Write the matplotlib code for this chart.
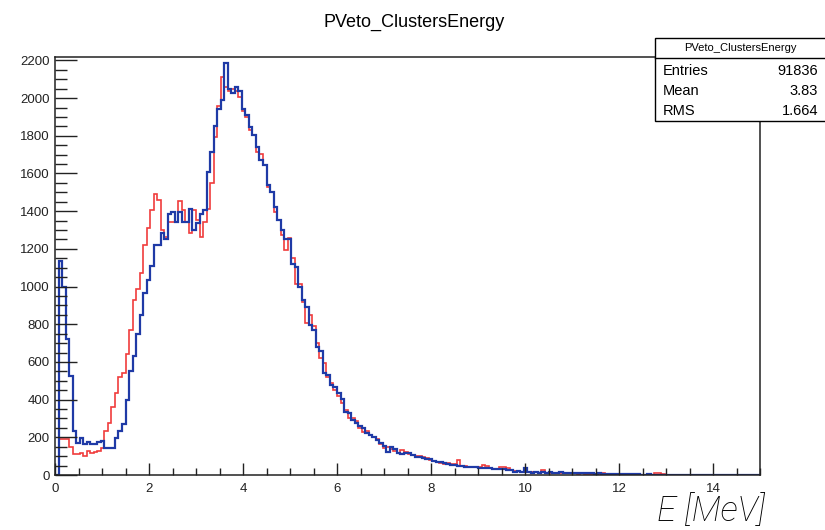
import numpy as np
import matplotlib
matplotlib.use('Agg')
import matplotlib.pyplot as plt
from matplotlib.patches import Rectangle
from matplotlib.lines import Line2D
from matplotlib.ticker import MultipleLocator

title = 'PVeto_ClustersEnergy'
x_min, x_max, n_bins = 0, 15, 200

# counts per 0.075 MeV bin
red_counts = [
    0, 189, 189, 189, 150, 111, 111, 115, 101, 127,
    115, 121, 130, 145, 233, 277, 362, 433, 518, 542,
    642, 772, 928, 986, 1073, 1220, 1308, 1405, 1490, 1458,
    1300, 1264, 1343, 1343, 1343, 1454, 1405, 1343, 1285, 1405,
    1352, 1264, 1343, 1414, 1547, 1794, 1960, 2112, 2060, 2036,
    2050, 2040, 2006, 1930, 1900, 1830, 1803, 1714, 1705, 1644,
    1530, 1502, 1396, 1352, 1272, 1193, 1255, 1150, 1016, 1016,
    919, 808, 850, 790, 700, 620, 592, 520, 490, 450,
    420, 380, 345, 300, 300, 285, 250, 230, 232, 210,
    203, 190, 165, 145, 150, 140, 125, 115, 135, 120,
    110, 105, 100, 100, 95, 88, 80, 75, 70, 65,
    60, 62, 58, 60, 80, 50, 48, 45, 42, 40,
    40, 52, 50, 36, 34, 32, 40, 40, 38, 25,
    22, 20, 18, 22, 15, 14, 16, 13, 27, 12,
    13, 11, 12, 9, 9, 10, 9, 8, 7, 8,
    6, 7, 5, 6, 5, 12, 4, 5, 3, 4,
    3, 2, 4, 2, 3, 1, 2, 1, 2, 1,
    12, 10, 3, 0, 0, 0, 0, 0, 0, 0,
    0, 0, 0, 0, 0, 0, 0, 0, 0, 0,
    0, 0, 0, 0, 0, 0, 0, 0, 0, 0,
]
blue_counts = [
    0, 1135, 995, 720, 527, 233, 171, 198, 163, 173,
    163, 163, 173, 180, 145, 145, 145, 198, 233, 269,
    400, 551, 631, 746, 848, 968, 1037, 1108, 1219, 1219,
    1285, 1250, 1384, 1396, 1343, 1396, 1343, 1343, 1409, 1299,
    1338, 1384, 1405, 1608, 1714, 1850, 1944, 1988, 2188, 2050,
    2029, 2059, 2040, 1944, 1909, 1847, 1803, 1741, 1670, 1644,
    1541, 1502, 1423, 1352, 1300, 1250, 1250, 1122, 1105, 995,
    931, 893, 795, 769, 680, 660, 539, 530, 477, 465,
    433, 403, 332, 327, 292, 277, 260, 247, 224, 212,
    200, 186, 171, 154, 124, 147, 136, 118, 111, 118,
    115, 106, 97, 97, 88, 83, 83, 76, 71, 71,
    62, 58, 55, 53, 50, 48, 44, 44, 42, 40,
    37, 37, 35, 36, 33, 34, 30, 31, 29, 28,
    18, 20, 18, 36, 15, 13, 14, 12, 16, 13,
    14, 12, 13, 14, 11, 12, 13, 9, 8, 10,
    9, 8, 9, 7, 8, 6, 7, 5, 4, 6,
    4, 5, 3, 4, 5, 3, 2, 1, 3, 1,
    0, 1, 2, 1, 0, 1, 0, 0, 1, 0,
    0, 0, 1, 0, 0, 0, 2, 0, 0, 0,
    0, 0, 0, 0, 0, 0, 0, 0, 0, 0,
]
stats_labels = ['Entries', 'Mean', 'RMS']
stats_values = ['91836', '3.83', '1.664']
x_ticks = [0, 2, 4, 6, 8, 10, 12, 14]
y_ticks = [0, 200, 400, 600, 800, 1000, 1200, 1400, 1600, 1800, 2000, 2200]

plt.rcParams['font.family'] = ['Liberation Sans', 'DejaVu Sans']

W, H = 825, 530
fig = plt.figure(figsize=(W / 100, H / 100), dpi=100)
ax = fig.add_axes([55 / W, 1 - 475 / H, 705 / W, (475 - 57) / H])

edges = np.linspace(x_min, x_max, n_bins + 1)
ax.stairs(red_counts, edges, color='#f03c3c', lw=1.2)
ax.stairs(blue_counts, edges, color='#1f3aa6', lw=1.6)

ax.set_xlim(x_min, x_max)
ax.set_ylim(0, 2218)
ax.set_xticks(x_ticks)
ax.set_yticks(y_ticks)
ax.xaxis.set_minor_locator(MultipleLocator(0.5))
ax.yaxis.set_minor_locator(MultipleLocator(50))
ax.tick_params(which='both', direction='in', top=False, right=False,
               width=1.0, color='#222222', labelsize=9.5, labelcolor='#222222')
ax.tick_params(axis='x', which='major', length=8.5, pad=6)
ax.tick_params(axis='x', which='minor', length=4.8)
ax.tick_params(axis='y', which='major', length=15.5, pad=4)
ax.tick_params(axis='y', which='minor', length=8.3)
for s in ax.spines.values():
    s.set_linewidth(1.1)
    s.set_color('#222222')

fig.text(414 / W, 1 - 22 / H, title, ha='center', va='center', fontsize=13)

# stats box, top right
bx0, by_top, by_bot, by_sep = 655, 38, 121, 58
fig.add_artist(Rectangle((bx0 / W, 1 - by_bot / H), 0.25, (by_bot - by_top) / H,
                         transform=fig.transFigure, fc='white', ec='black', lw=1.0, zorder=5))
fig.add_artist(Line2D([bx0 / W, 1], [1 - by_sep / H] * 2, transform=fig.transFigure,
                      color='black', lw=1.0, zorder=6))
fig.text(740 / W, 1 - 48 / H, title, ha='center', va='center', fontsize=8, zorder=7)
for i, (lab, val) in enumerate(zip(stats_labels, stats_values)):
    yy = 1 - (71 + 20 * i) / H
    fig.text(663 / W, yy, lab, ha='left', va='center', fontsize=10.5, zorder=7)
    fig.text(818 / W, yy, val, ha='right', va='center', fontsize=10.5, zorder=7)

fig.text(765 / W, 1 - 521 / H, 'E [MeV]', ha='right', va='baseline', fontsize=25,
         style='italic', family=['Roboto', 'DejaVu Sans'], weight='light')

fig.savefig('out.png', dpi=100)
